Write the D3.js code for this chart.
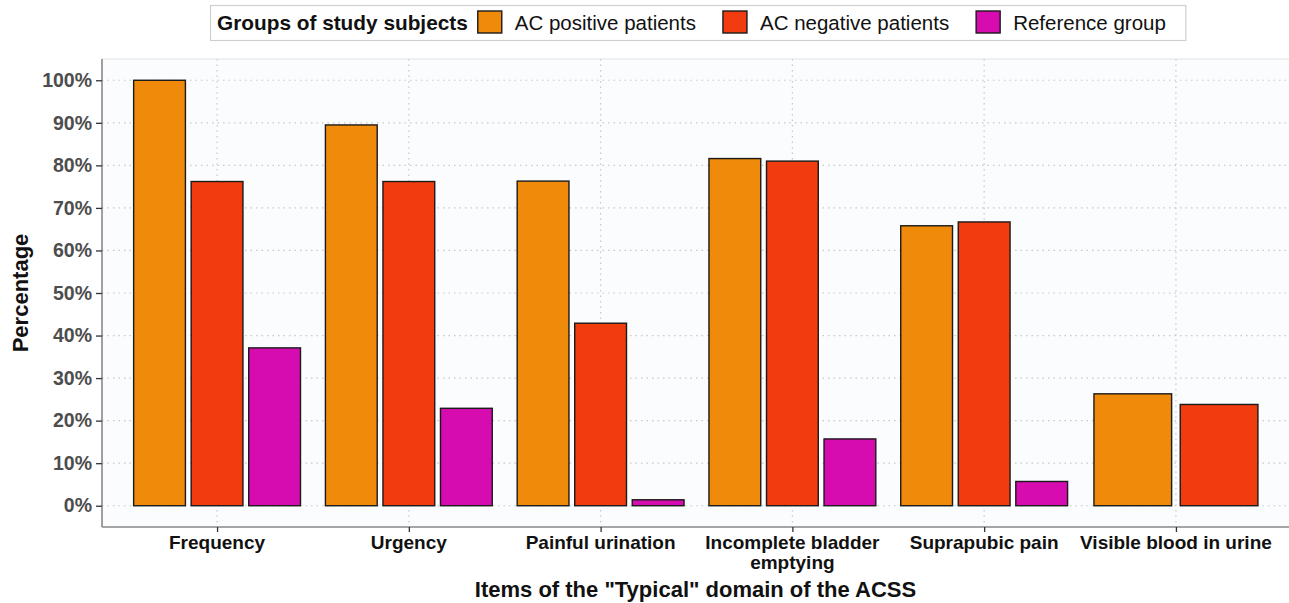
<!DOCTYPE html>
<html>
<head>
<meta charset="utf-8">
<script src="https://cdn.jsdelivr.net/npm/d3@7"></script>
<style>
  body { margin: 0; background: #fff; }
  text { font-family: "Liberation Sans", Arial, sans-serif; }
</style>
</head>
<body>
<svg id="chart" width="1289" height="603"></svg>
<script>
// categories on the x axis (the "\n" splits long labels)
var items = ["Frequency", "Urgency", "Painful urination", "Incomplete bladder\nemptying", "Suprapubic pain", "Visible blood in urine"];

var groups = ["AC positive patients", "AC negative patients", "Reference group"];
var groupColors = ["#F08A0B", "#F03C0E", "#D60CB0"];

// percentages per group (null = no bar)
var acPositive = [100, 89.5, 76.3, 81.6, 65.8, 26.3];
var acNegative = [76.2, 76.2, 42.9, 81.0, 66.7, 23.8];
var reference  = [37.1, 22.9, 1.4, 15.7, 5.7, null];

var yTicks = [0, 10, 20, 30, 40, 50, 60, 70, 80, 90, 100];

var series = [acPositive, acNegative, reference];

var W = 1289, H = 603;
var pLeft = 102, pRight = 1291, pTop = 59, pBot = 527;

var svg = d3.select("#chart");

var x = d3.scalePoint().domain(items).range([pLeft, pRight]).padding(0.6);
var y = d3.scaleLinear().domain([-5, 105]).range([pBot, pTop]);

// panel
svg.append("rect")
    .attr("x", pLeft).attr("y", pTop)
    .attr("width", pRight - pLeft).attr("height", pBot - pTop)
    .attr("fill", "#FAFCFE")
    .attr("stroke", "#E3E3E3").attr("stroke-width", 1);

// grid
var grid = svg.append("g");
grid.selectAll("line.h").data(yTicks).enter().append("line")
    .attr("x1", pLeft).attr("x2", pRight)
    .attr("y1", function(d) { return y(d); }).attr("y2", function(d) { return y(d); })
    .attr("stroke", "#C8C8C8").attr("stroke-width", 1.2)
    .attr("stroke-dasharray", "1.5,4");
grid.selectAll("line.v").data(items).enter().append("line")
    .attr("y1", pTop).attr("y2", pBot)
    .attr("x1", function(d) { return x(d); }).attr("x2", function(d) { return x(d); })
    .attr("stroke", "#C8C8C8").attr("stroke-width", 1.2)
    .attr("stroke-dasharray", "1.5,4");

// bars, dodged like ggplot's position_dodge2
var bars = [];
items.forEach(function(item, i) {
    var present = [];
    series.forEach(function(s, g) {
        if (s[i] != null) present.push({item: item, g: g, v: s[i]});
    });
    var total = x.step() * 0.9;
    var slot = total / present.length;
    present.forEach(function(d, k) {
        d.cx = x(item) - total / 2 + slot * (k + 0.5);
        d.w = slot * 0.9;
        bars.push(d);
    });
});

svg.append("g").selectAll("rect").data(bars).enter().append("rect")
    .attr("x", function(d) { return d.cx - d.w / 2; })
    .attr("width", function(d) { return d.w; })
    .attr("y", function(d) { return y(d.v); })
    .attr("height", function(d) { return y(0) - y(d.v); })
    .attr("fill", function(d) { return groupColors[d.g]; })
    .attr("stroke", "#1a1a1a").attr("stroke-width", 1.4);

// y axis
var yAxis = svg.append("g")
    .attr("transform", "translate(" + pLeft + ",0)")
    .call(d3.axisLeft(y).tickValues(yTicks).tickSize(6).tickPadding(4)
        .tickFormat(function(d) { return d + "%"; }));
yAxis.select(".domain").attr("stroke", "#8C8C8C").attr("stroke-width", 1.6)
    .attr("d", "M0," + pTop + "V" + pBot);
yAxis.selectAll(".tick line").attr("stroke", "#333").attr("stroke-width", 1.3);
yAxis.selectAll(".tick text")
    .attr("fill", "#4D4D4D").attr("font-size", 19.5).attr("font-weight", "bold")
    .style("font-family", "'Liberation Sans', Arial, sans-serif");

// x axis
var xAxis = svg.append("g")
    .attr("transform", "translate(0," + pBot + ")")
    .call(d3.axisBottom(x).tickSize(5).tickFormat(""));
xAxis.select(".domain").attr("stroke", "#8C8C8C").attr("stroke-width", 1.6)
    .attr("d", "M" + pLeft + ",0H" + pRight);
xAxis.selectAll(".tick line").attr("stroke", "#333").attr("stroke-width", 1.3);

var xl = svg.append("g").selectAll("text").data(items).enter().append("text")
    .attr("x", function(d) { return x(d); })
    .attr("y", 549)
    .attr("text-anchor", "middle")
    .attr("font-size", 19).attr("font-weight", "bold").attr("fill", "#111");
xl.each(function(d) {
    var lines = d.split("\n");
    var t = d3.select(this);
    lines.forEach(function(l, k) {
        t.append("tspan").attr("x", x(d)).attr("dy", k == 0 ? 0 : 20).text(l);
    });
});

// axis titles
svg.append("text")
    .attr("x", (pLeft + W) / 2).attr("y", 597)
    .attr("text-anchor", "middle")
    .attr("font-size", 22).attr("font-weight", "bold").attr("fill", "#111")
    .text('Items of the "Typical" domain of the ACSS');

svg.append("text")
    .attr("transform", "translate(28," + ((pTop + pBot) / 2) + ") rotate(-90)")
    .attr("text-anchor", "middle")
    .attr("font-size", 22).attr("font-weight", "bold").attr("fill", "#111")
    .text("Percentage");

// legend
var leg = svg.append("g");
var legBox = leg.append("rect")
    .attr("x", 210.5).attr("y", 5.5).attr("height", 35)
    .attr("fill", "#fff").attr("stroke", "#CFCFCF").attr("stroke-width", 1.2);

var title = leg.append("text")
    .attr("x", 217).attr("y", 30)
    .attr("font-size", 20.8).attr("font-weight", "bold").attr("fill", "#111")
    .text("Groups of study subjects");

var cx = 217 + title.node().getComputedTextLength() + 10;
groups.forEach(function(g, i) {
    leg.append("rect")
        .attr("x", cx).attr("y", 11)
        .attr("width", 24).attr("height", 22)
        .attr("fill", groupColors[i])
        .attr("stroke", "#1a1a1a").attr("stroke-width", 1.4);
    var lab = leg.append("text")
        .attr("x", cx + 37).attr("y", 30)
        .attr("font-size", 20.5).attr("fill", "#111")
        .text(g);
    cx = cx + 37 + lab.node().getComputedTextLength() + 27;
});
legBox.attr("width", cx - 7 - 210.5);
</script>
</body>
</html>
